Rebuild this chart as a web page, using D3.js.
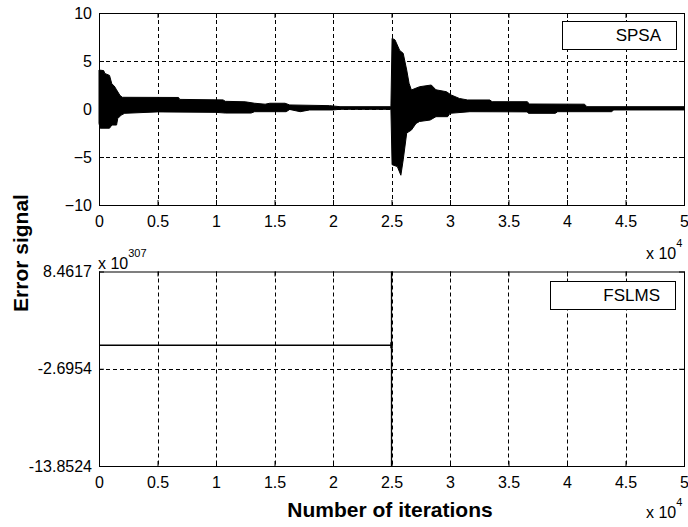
<!DOCTYPE html>
<html><head><meta charset="utf-8">
<script src="https://cdn.jsdelivr.net/npm/d3@7"></script>
<style>
html,body{margin:0;padding:0;background:#fff;}
svg text{font-family:"Liberation Sans",Arial,sans-serif;fill:#000;}
</style></head>
<body><svg id="c" width="688" height="527"></svg>
<script>
// ---- data (iterations in units of 1e4) ----
const xTicks = [0, 0.5, 1, 1.5, 2, 2.5, 3, 3.5, 4, 4.5, 5];
const xTickLabels = ["0","0.5","1","1.5","2","2.5","3","3.5","4","4.5","5"];
const spsaYTicks = [-10, -5, 0, 5, 10];
const fslmsYTicks = [-13.8524, -2.6954, 8.4617];
const fslmsYTickLabels = ["-13.8524", "-2.6954", "8.4617"];

// SPSA error signal envelope (upper / lower edge of the oscillation)
const spsaUpperIter = [0, 0.04, 0.05, 0.09, 0.11, 0.13, 0.15, 0.18, 0.20, 0.68, 0.69, 1.06, 1.08, 1.25, 1.33, 1.42, 1.46, 1.59, 1.63, 1.97, 2.06, 2.495,
  2.505, 2.53, 2.57, 2.60, 2.63, 2.65, 2.67, 2.74, 2.84, 2.88, 2.97, 3.01, 3.08, 3.15, 3.34, 3.36, 3.66, 3.68, 4.15, 4.17, 5];
const spsaUpperVal = [4.06, 4.0, 3.7, 3.5, 2.6, 2.4, 2.0, 1.4, 1.22, 1.2, 1.0, 0.95, 0.8, 0.75, 0.6, 0.5, 0.6, 0.6, 0.42, 0.35, 0.24, 0.24,
  7.36, 7.2, 6.1, 5.8, 4.06, 2.68, 1.98, 2.32, 2.5, 2.0, 1.8, 1.46, 1.1, 0.94, 0.94, 0.76, 0.76, 0.52, 0.5, 0.24, 0.24];
const spsaLowerIter = [0, 0.01, 0.09, 0.11, 0.15, 0.16, 0.19, 0.22, 0.5, 1.0, 1.08, 1.3, 1.33, 1.6, 1.63, 1.72, 1.8, 2.0, 2.06, 2.495,
  2.505, 2.55, 2.58, 2.60, 2.63, 2.67, 2.71, 2.74, 2.83, 2.88, 2.98, 3.0, 3.17, 3.66, 3.67, 3.9, 3.92, 4.38, 4.4, 5];
const spsaLowerVal = [-1.5, -2.0, -2.0, -1.67, -1.67, -1.0, -0.63, -0.45, -0.3, -0.35, -0.42, -0.42, -0.28, -0.28, -0.05, -0.28, -0.1, -0.1, -0.03, -0.03,
  -5.8, -6.0, -6.9, -5.3, -2.5, -2.2, -1.5, -1.3, -1.15, -0.8, -0.8, -0.45, -0.28, -0.3, -0.45, -0.45, -0.28, -0.28, -0.1, -0.1];

// FSLMS error signal (units of 1e307): zero until divergence at 2.5e4
const fslmsIter = [0, 2.5];
const fslmsVal = [0, 0];
const fslmsSpikeIter = [2.5, 2.5];
const fslmsSpikeVal = [8.4617, -13.8524];

// ---- layout ----
const svg = d3.select("#c");
const L = 99, R = 684;
const x = d3.scaleLinear().domain([0, 5]).range([L, R]);
const yTop = d3.scaleLinear().domain([-10, 10]).range([205, 13]);
const yBot = d3.scaleLinear().domain([-13.8524, 8.4617]).range([466, 271.5]);

function grid(g, y, yTicks) {
  const [y0, y1] = y.range();
  g.selectAll("line.gx").data(xTicks.filter(t => t > 0 && t < 5)).join("line")
    .attr("x1", d => Math.round(x(d)) + 0.5).attr("x2", d => Math.round(x(d)) + 0.5)
    .attr("y1", y1).attr("y2", y0)
    .attr("stroke", "#000").attr("stroke-width", 1).attr("stroke-dasharray", "4,3");
  g.selectAll("line.gy").data(yTicks.filter(t => y(t) > y1 + 1 && y(t) < y0 - 1)).join("line")
    .attr("x1", L).attr("x2", R)
    .attr("y1", d => Math.round(y(d)) + 0.5).attr("y2", d => Math.round(y(d)) + 0.5)
    .attr("stroke", "#000").attr("stroke-width", 1).attr("stroke-dasharray", "4,3");
}

function axes(y, yTicks, yLabels) {
  const [y0, y1] = y.range();
  const fs = "16px";
  const b = svg.append("g").attr("transform", `translate(0,${y0})`)
    .call(d3.axisBottom(x).tickValues(xTicks).tickFormat((d, i) => xTickLabels[i]).tickSizeInner(-5).tickSizeOuter(0).tickPadding(11));
  b.selectAll("text").style("font-size", fs);
  svg.append("g").attr("transform", `translate(0,${y1})`)
    .call(d3.axisTop(x).tickValues(xTicks).tickFormat("").tickSizeInner(-5).tickSizeOuter(0));
  const l = svg.append("g").attr("transform", `translate(${L},0)`)
    .call(d3.axisLeft(y).tickValues(yTicks).tickFormat((d, i) => yLabels ? yLabels[i] : d3.format("d")(d)).tickSizeInner(-5).tickSizeOuter(0).tickPadding(7));
  l.selectAll("text").style("font-size", fs);
  svg.append("g").attr("transform", `translate(${R},0)`)
    .call(d3.axisRight(y).tickValues(yTicks).tickFormat("").tickSizeInner(-5).tickSizeOuter(0));
  svg.selectAll(".domain").remove();
  svg.selectAll(".tick line").attr("stroke", "#000");
  svg.append("rect").attr("x", L + 0.5).attr("y", y1 + 0.5).attr("width", R - L).attr("height", y0 - y1)
    .attr("fill", "none").attr("stroke", "#000").attr("stroke-width", 1);
}

function legend(label, x0, y0, w, h) {
  svg.append("rect").attr("x", x0 + 0.5).attr("y", y0 + 0.5).attr("width", w).attr("height", h)
    .attr("fill", "#fff").attr("stroke", "#000").attr("stroke-width", 1);
  svg.append("text").attr("x", x0 + w - 15).attr("y", y0 + h / 2 + 6)
    .attr("text-anchor", "end").style("font-size", "17px").text(label);
}

// ---- top plot: SPSA ----
grid(svg.append("g"), yTop, spsaYTicks);
const poly = spsaUpperIter.map((t, i) => [t, spsaUpperVal[i]])
  .concat(spsaLowerIter.map((t, i) => [t, spsaLowerVal[i]]).reverse());
svg.append("path")
  .attr("d", d3.line().x(d => x(d[0])).y(d => yTop(d[1]))(poly) + "Z")
  .attr("fill", "#000").attr("stroke", "#000").attr("stroke-width", 1);
legend("SPSA", 562, 21, 114, 28);
axes(yTop, spsaYTicks, null);

// ---- bottom plot: FSLMS ----
grid(svg.append("g"), yBot, fslmsYTicks);
svg.append("path")
  .attr("d", d3.line().x((d, i) => x(fslmsIter[i])).y((d, i) => yBot(fslmsVal[i]))(fslmsVal))
  .attr("fill", "none").attr("stroke", "#000").attr("stroke-width", 1.3);
svg.append("path")
  .attr("d", d3.line().x((d, i) => x(fslmsSpikeIter[i])).y((d, i) => yBot(fslmsSpikeVal[i]))(fslmsSpikeVal))
  .attr("fill", "none").attr("stroke", "#000").attr("stroke-width", 1.3);
svg.append("line")
  .attr("x1", x(2.5)).attr("x2", x(2.5)).attr("y1", yBot(0) - 3).attr("y2", yBot(0) + 3)
  .attr("stroke", "#000").attr("stroke-width", 2.5);
legend("FSLMS", 550, 281, 125, 28);
axes(yBot, fslmsYTicks, fslmsYTickLabels);

// ---- exponent labels ----
function expo(xp, yp, base, sup) {
  const t = svg.append("text").attr("x", xp).attr("y", yp).style("font-size", "16px");
  t.append("tspan").text(base);
  t.append("tspan").attr("dy", -12).style("font-size", "11px").text(sup);
}
expo(646, 259, "x 10", "4");
expo(98, 269, "x 10", "307");
expo(646, 518, "x 10", "4");

// ---- axis titles ----
svg.append("text").attr("x", 390).attr("y", 517).attr("text-anchor", "middle")
  .style("font-size", "21px").style("font-weight", "bold").text("Number of iterations");
svg.append("text").attr("transform", "translate(28,253) rotate(-90)").attr("text-anchor", "middle")
  .style("font-size", "21px").style("font-weight", "bold").text("Error signal");
</script></body></html>
